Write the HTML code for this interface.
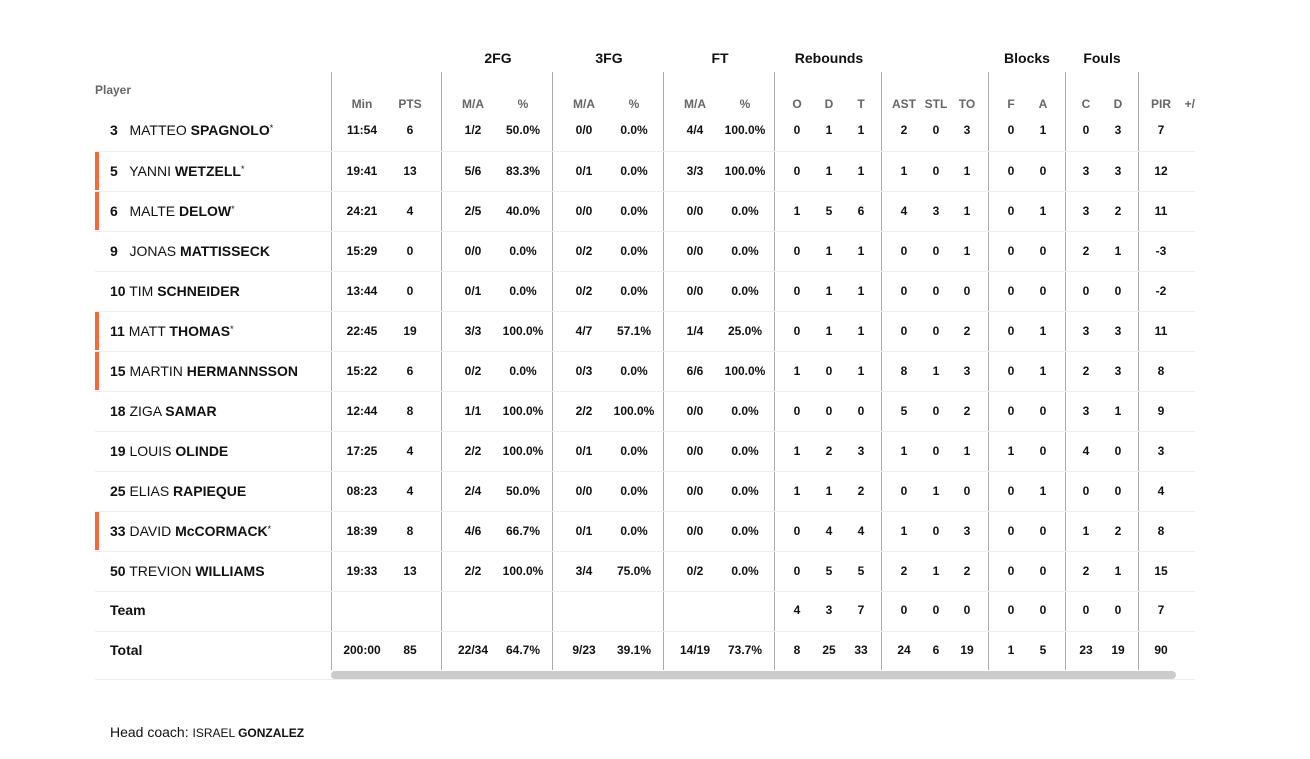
<!DOCTYPE html>
<html><head><meta charset="utf-8"><style>
body{margin:0;width:1310px;height:759px;background:#fff;font-family:"Liberation Sans",sans-serif;color:#111;position:relative;overflow:hidden}
.a{position:absolute}
.g{position:absolute;top:50px;font-weight:bold;font-size:14px;width:120px;text-align:center;margin-left:-60px}
.h span,.r span{position:absolute;width:60px;margin-left:-30px;text-align:center;font-weight:bold;font-size:12px;line-height:40px}
.h{position:absolute;top:84px;left:0;height:40px;width:1310px}
.h span{color:#666}
.r{position:absolute;left:0;width:1310px;height:40px}
.r span:nth-child(1){left:110px;margin-left:0;width:220px;text-align:left;font-weight:normal;font-size:14px}
.r span:nth-child(1) b{font-weight:bold}
span:nth-child(2){left:362px}span:nth-child(3){left:410px}span:nth-child(4){left:473px}span:nth-child(5){left:523px}
span:nth-child(6){left:584px}span:nth-child(7){left:634px}span:nth-child(8){left:695px}span:nth-child(9){left:745px}
span:nth-child(10){left:797px}span:nth-child(11){left:829px}span:nth-child(12){left:861px}span:nth-child(13){left:904px}
span:nth-child(14){left:936px}span:nth-child(15){left:967px}span:nth-child(16){left:1011px}span:nth-child(17){left:1043px}
span:nth-child(18){left:1086px}span:nth-child(19){left:1118px}span:nth-child(20){left:1161px}span:nth-child(21){left:1189px}
.h span:nth-child(1){left:0}
.v{position:absolute;top:72px;height:598px;width:1px;background:#aaa}
.s{position:absolute;left:95px;width:1100px;height:1px;background:#eee}
.o{position:absolute;left:95px;width:4px;height:38px;background:#f26b3a}
sup{font-size:9px;vertical-align:4px;line-height:0}
</style></head><body>
<div class="g" style="left:498px">2FG</div>
<div class="g" style="left:609px">3FG</div>
<div class="g" style="left:720px">FT</div>
<div class="g" style="left:829px">Rebounds</div>
<div class="g" style="left:1027px">Blocks</div>
<div class="g" style="left:1102px">Fouls</div>
<div class="a" style="left:95px;top:83px;font-size:12px;font-weight:bold;color:#666">Player</div>
<div class="h"><span style="display:none"></span><span>Min</span><span>PTS</span><span>M/A</span><span>%</span><span>M/A</span><span>%</span><span>M/A</span><span>%</span><span>O</span><span>D</span><span>T</span><span>AST</span><span>STL</span><span>TO</span><span>F</span><span>A</span><span>C</span><span>D</span><span>PIR</span><span style="margin-left:-30px;text-align:right;width:36px">+/</span></div>
<div class="v" style="left:331px"></div><div class="v" style="left:441px"></div><div class="v" style="left:552px"></div><div class="v" style="left:663px"></div><div class="v" style="left:774px"></div><div class="v" style="left:881px"></div><div class="v" style="left:988px"></div><div class="v" style="left:1065px"></div><div class="v" style="left:1138px"></div>
<div class="s" style="top:151px"></div><div class="s" style="top:191px"></div><div class="s" style="top:231px"></div><div class="s" style="top:271px"></div><div class="s" style="top:311px"></div><div class="s" style="top:351px"></div><div class="s" style="top:391px"></div><div class="s" style="top:431px"></div><div class="s" style="top:471px"></div><div class="s" style="top:511px"></div><div class="s" style="top:551px"></div><div class="s" style="top:591px"></div><div class="s" style="top:631px"></div><div class="s" style="top:679px"></div>
<div class="o" style="top:152px"></div><div class="o" style="top:192px"></div><div class="o" style="top:312px"></div><div class="o" style="top:352px"></div><div class="o" style="top:512px"></div>
<div class="r" style="top:110px"><span><b>3</b>&nbsp;&nbsp; MATTEO <b>SPAGNOLO</b><sup>*</sup></span><span>11:54</span><span>6</span><span>1/2</span><span>50.0%</span><span>0/0</span><span>0.0%</span><span>4/4</span><span>100.0%</span><span>0</span><span>1</span><span>1</span><span>2</span><span>0</span><span>3</span><span>0</span><span>1</span><span>0</span><span>3</span><span>7</span></div>
<div class="r" style="top:151px"><span><b>5</b>&nbsp;&nbsp; YANNI <b>WETZELL</b><sup>*</sup></span><span>19:41</span><span>13</span><span>5/6</span><span>83.3%</span><span>0/1</span><span>0.0%</span><span>3/3</span><span>100.0%</span><span>0</span><span>1</span><span>1</span><span>1</span><span>0</span><span>1</span><span>0</span><span>0</span><span>3</span><span>3</span><span>12</span></div>
<div class="r" style="top:191px"><span><b>6</b>&nbsp;&nbsp; MALTE <b>DELOW</b><sup>*</sup></span><span>24:21</span><span>4</span><span>2/5</span><span>40.0%</span><span>0/0</span><span>0.0%</span><span>0/0</span><span>0.0%</span><span>1</span><span>5</span><span>6</span><span>4</span><span>3</span><span>1</span><span>0</span><span>1</span><span>3</span><span>2</span><span>11</span></div>
<div class="r" style="top:231px"><span><b>9</b>&nbsp;&nbsp; JONAS <b>MATTISSECK</b></span><span>15:29</span><span>0</span><span>0/0</span><span>0.0%</span><span>0/2</span><span>0.0%</span><span>0/0</span><span>0.0%</span><span>0</span><span>1</span><span>1</span><span>0</span><span>0</span><span>1</span><span>0</span><span>0</span><span>2</span><span>1</span><span>-3</span></div>
<div class="r" style="top:271px"><span><b>10</b> TIM <b>SCHNEIDER</b></span><span>13:44</span><span>0</span><span>0/1</span><span>0.0%</span><span>0/2</span><span>0.0%</span><span>0/0</span><span>0.0%</span><span>0</span><span>1</span><span>1</span><span>0</span><span>0</span><span>0</span><span>0</span><span>0</span><span>0</span><span>0</span><span>-2</span></div>
<div class="r" style="top:311px"><span><b>11</b> MATT <b>THOMAS</b><sup>*</sup></span><span>22:45</span><span>19</span><span>3/3</span><span>100.0%</span><span>4/7</span><span>57.1%</span><span>1/4</span><span>25.0%</span><span>0</span><span>1</span><span>1</span><span>0</span><span>0</span><span>2</span><span>0</span><span>1</span><span>3</span><span>3</span><span>11</span></div>
<div class="r" style="top:351px"><span><b>15</b> MARTIN <b>HERMANNSSON</b></span><span>15:22</span><span>6</span><span>0/2</span><span>0.0%</span><span>0/3</span><span>0.0%</span><span>6/6</span><span>100.0%</span><span>1</span><span>0</span><span>1</span><span>8</span><span>1</span><span>3</span><span>0</span><span>1</span><span>2</span><span>3</span><span>8</span></div>
<div class="r" style="top:391px"><span><b>18</b> ZIGA <b>SAMAR</b></span><span>12:44</span><span>8</span><span>1/1</span><span>100.0%</span><span>2/2</span><span>100.0%</span><span>0/0</span><span>0.0%</span><span>0</span><span>0</span><span>0</span><span>5</span><span>0</span><span>2</span><span>0</span><span>0</span><span>3</span><span>1</span><span>9</span></div>
<div class="r" style="top:431px"><span><b>19</b> LOUIS <b>OLINDE</b></span><span>17:25</span><span>4</span><span>2/2</span><span>100.0%</span><span>0/1</span><span>0.0%</span><span>0/0</span><span>0.0%</span><span>1</span><span>2</span><span>3</span><span>1</span><span>0</span><span>1</span><span>1</span><span>0</span><span>4</span><span>0</span><span>3</span></div>
<div class="r" style="top:471px"><span><b>25</b> ELIAS <b>RAPIEQUE</b></span><span>08:23</span><span>4</span><span>2/4</span><span>50.0%</span><span>0/0</span><span>0.0%</span><span>0/0</span><span>0.0%</span><span>1</span><span>1</span><span>2</span><span>0</span><span>1</span><span>0</span><span>0</span><span>1</span><span>0</span><span>0</span><span>4</span></div>
<div class="r" style="top:511px"><span><b>33</b> DAVID <b>McCORMACK</b><sup>*</sup></span><span>18:39</span><span>8</span><span>4/6</span><span>66.7%</span><span>0/1</span><span>0.0%</span><span>0/0</span><span>0.0%</span><span>0</span><span>4</span><span>4</span><span>1</span><span>0</span><span>3</span><span>0</span><span>0</span><span>1</span><span>2</span><span>8</span></div>
<div class="r" style="top:551px"><span><b>50</b> TREVION <b>WILLIAMS</b></span><span>19:33</span><span>13</span><span>2/2</span><span>100.0%</span><span>3/4</span><span>75.0%</span><span>0/2</span><span>0.0%</span><span>0</span><span>5</span><span>5</span><span>2</span><span>1</span><span>2</span><span>0</span><span>0</span><span>2</span><span>1</span><span>15</span></div>
<div class="r" style="top:590px"><span><b>Team</b></span><span></span><span></span><span></span><span></span><span></span><span></span><span></span><span></span><span>4</span><span>3</span><span>7</span><span>0</span><span>0</span><span>0</span><span>0</span><span>0</span><span>0</span><span>0</span><span>7</span></div>
<div class="r" style="top:630px"><span><b>Total</b></span><span>200:00</span><span>85</span><span>22/34</span><span>64.7%</span><span>9/23</span><span>39.1%</span><span>14/19</span><span>73.7%</span><span>8</span><span>25</span><span>33</span><span>24</span><span>6</span><span>19</span><span>1</span><span>5</span><span>23</span><span>19</span><span>90</span></div>
<div class="a" style="left:331px;top:671px;width:845px;height:8px;border-radius:4px;background:#ccc"></div>
<div class="a" style="left:110px;top:724px;font-size:14px">Head coach: <span style="font-size:12px">ISRAEL <b>GONZALEZ</b></span></div>
</body></html>
